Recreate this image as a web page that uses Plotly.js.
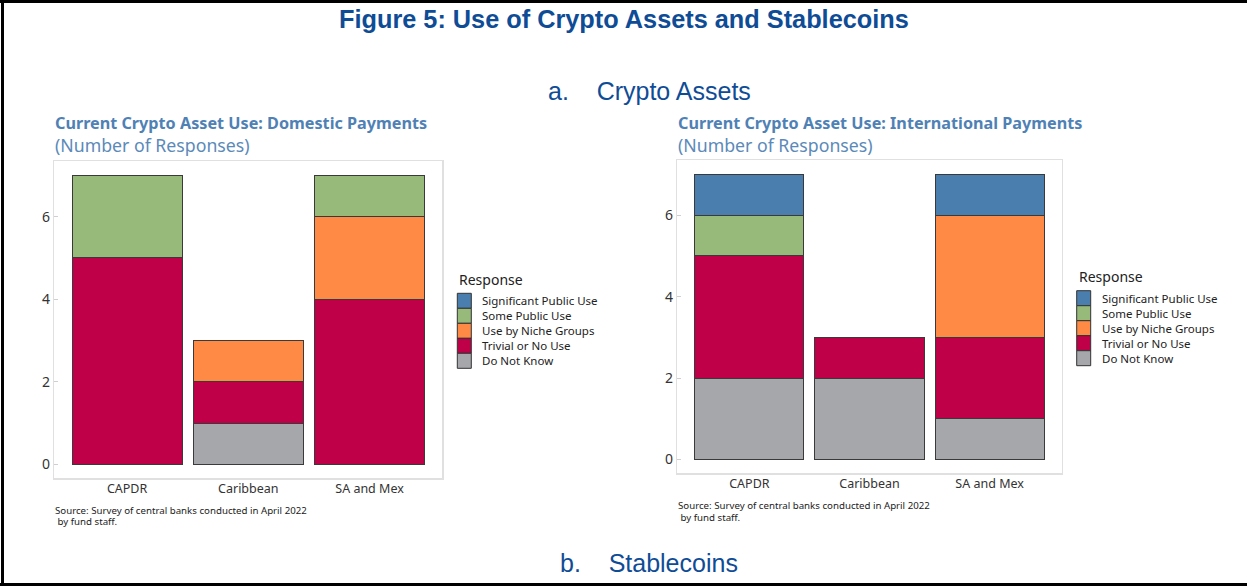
<!DOCTYPE html>
<html>
<head>
<meta charset="utf-8">
<script src="https://cdn.plot.ly/plotly-3.0.1.min.js"></script>
<style>
html,body{margin:0;padding:0;background:#fff;}
#chart{width:1247px;height:586px;}
</style>
</head>
<body>
<div id="chart"></div>
<script>
// ---- data ----
const regions = ["CAPDR", "Caribbean", "SA and Mex"];
const responses = ["Significant Public Use", "Some Public Use", "Use by Niche Groups", "Trivial or No Use", "Do Not Know"];
const responseColors = ["#4a7eae", "#97ba7a", "#ff8a45", "#bf0049", "#a6a7ab"];

// Domestic payments (values per region, order of regions)
const domSignificant = [0, 0, 0];
const domSome        = [2, 0, 1];
const domNiche       = [0, 1, 2];
const domTrivial     = [5, 1, 4];
const domDoNotKnow   = [0, 1, 0];

// International payments
const intSignificant = [1, 0, 1];
const intSome        = [1, 0, 0];
const intNiche       = [0, 0, 3];
const intTrivial     = [3, 1, 2];
const intDoNotKnow   = [2, 2, 1];

const yTicks = [0, 2, 4, 6];

const mainTitle = "Figure 5: Use of Crypto Assets and Stablecoins";
const sectionA = "a.&nbsp;&nbsp;&nbsp;&nbsp;Crypto Assets";
const sectionB = "b.&nbsp;&nbsp;&nbsp;&nbsp;Stablecoins";
const title1 = "Current Crypto Asset Use: Domestic Payments";
const title2 = "Current Crypto Asset Use: International Payments";
const subTitle = "(Number of Responses)";
const legendTitle = "Response";
const sourceLine1 = "Source: Survey of central banks conducted in April 2022";
const sourceLine2 = "&nbsp;by fund staff.";

// ---- build ----
const W = 1247, H = 586;
const px = x => x / W;
const py = y => 1 - y / H;
const FONT = "'Noto Sans', 'Open Sans', sans-serif";
const HFONT = "'Liberation Sans', Arial, sans-serif";

const domSeries = [domSignificant, domSome, domNiche, domTrivial, domDoNotKnow];
const intSeries = [intSignificant, intSome, intNiche, intTrivial, intDoNotKnow];

const traces = [];
// stack bottom to top: Do Not Know, Trivial, Niche, Some, Significant
for (let k = responses.length - 1; k >= 0; k--) {
  traces.push({
    type: "bar", name: responses[k], x: regions, y: domSeries[k],
    xaxis: "x", yaxis: "y",
    marker: {color: responseColors[k], line: {color: "#3a3a3a", width: 1}},
    showlegend: false, hoverinfo: "x+y+name"
  });
  traces.push({
    type: "bar", name: responses[k], x: regions, y: intSeries[k],
    xaxis: "x2", yaxis: "y2",
    marker: {color: responseColors[k], line: {color: "#3a3a3a", width: 1}},
    showlegend: false, hoverinfo: "x+y+name"
  });
}

const axisX = (dom) => ({
  domain: dom, range: [-0.6, 2.6], showgrid: false, zeroline: false,
  showline: true, mirror: true, linecolor: "#e0e0e0", linewidth: 1.5,
  ticks: "", ticklabelstandoff: -2,
  tickfont: {family: FONT, size: 12.5, color: "#333"}, fixedrange: true
});
const axisY = (dom, anchor) => ({
  domain: dom, range: [-0.34, 7.35], showgrid: false, zeroline: false,
  showline: true, mirror: true, linecolor: "#e0e0e0", linewidth: 1.5,
  tickvals: yTicks, ticktext: yTicks.map(String),
  ticks: "inside", ticklen: 4, tickcolor: "#cfcfcf",
  tickfont: {family: FONT, size: 14, color: "#333"}, anchor: anchor, fixedrange: true
});

const annotations = [];
const shapes = [];
function txt(text, x, y, size, color, opts) {
  annotations.push(Object.assign({
    text: text, x: px(x), y: py(y), xref: "paper", yref: "paper",
    showarrow: false, xanchor: "left", yanchor: "middle",
    font: {family: FONT, size: size, color: color}
  }, opts || {}));
}

// headings
txt("<b>" + mainTitle + "</b>", 623.5, 19, 25.3, "#0f4c96", {xanchor: "center", font: {family: HFONT, size: 25.3, color: "#0f4c96"}});
txt(sectionA, 649.5, 91, 25, "#0f4c96", {xanchor: "center", font: {family: HFONT, size: 25, color: "#0f4c96"}});
txt(sectionB, 648.5, 563, 25, "#0f4c96", {xanchor: "center", font: {family: HFONT, size: 25, color: "#0f4c96"}});

// panel titles
const panels = [
  {title: title1, x0: 53, tY: 123, sY: 145, lx: 457.3, ltY: 279, lTop: 293.3, srcX: 53, src1: 510.5, src2: 521.5},
  {title: title2, x0: 676, tY: 123, sY: 145, lx: 1076.7, ltY: 276.7, lTop: 290.7, srcX: 676, src1: 505.7, src2: 517.5}
];
panels.forEach(p => {
  txt("<b>" + p.title + "</b>", p.x0, p.tY, 16.2, "#4f81b5");
  txt(subTitle, p.x0, p.sY, 17.7, "#5b8ab9");
  txt(legendTitle, p.lx, p.ltY, 14, "#222");
  const rowH = 15;
  responses.forEach((r, i) => {
    const y0 = p.lTop + i * rowH;
    shapes.push({type: "rect", xref: "paper", yref: "paper",
      x0: px(p.lx), x1: px(p.lx + 14), y0: py(y0), y1: py(y0 + rowH),
      fillcolor: responseColors[i], line: {color: "#333", width: 1}});
    txt(r, p.lx + 23, y0 + rowH / 2, 11.5, "#222");
  });
  txt(sourceLine1, p.srcX, p.src1, 9.7, "#222");
  txt(sourceLine2, p.srcX, p.src2, 9.7, "#222");
});

// outer frame (top, left, bottom)
shapes.push({type: "line", xref: "paper", yref: "paper", x0: 0, x1: 1, y0: py(1.5), y1: py(1.5), line: {color: "#000", width: 3}});
shapes.push({type: "line", xref: "paper", yref: "paper", x0: px(2.5), x1: px(2.5), y0: py(0), y1: py(586), line: {color: "#000", width: 3}});
shapes.push({type: "line", xref: "paper", yref: "paper", x0: 0, x1: 1, y0: py(584.5), y1: py(584.5), line: {color: "#000", width: 3}});

const layout = {
  width: W, height: H, margin: {l: 0, r: 0, t: 0, b: 0},
  paper_bgcolor: "#fff", plot_bgcolor: "#fff",
  barmode: "stack", bargap: 0.092, showlegend: false,
  xaxis: Object.assign(axisX([px(54.3), px(442.3)]), {anchor: "y"}),
  yaxis: axisY([1 - 478.3 / H, 1 - 161 / H], "x"),
  xaxis2: Object.assign(axisX([px(677.3), px(1061.7)]), {anchor: "y2"}),
  yaxis2: axisY([1 - 473.3 / H, 1 - 160.3 / H], "x2"),
  annotations: annotations, shapes: shapes,
  font: {family: FONT}
};

Plotly.newPlot("chart", traces, layout, {displayModeBar: false, staticPlot: true});
</script>
</body>
</html>
